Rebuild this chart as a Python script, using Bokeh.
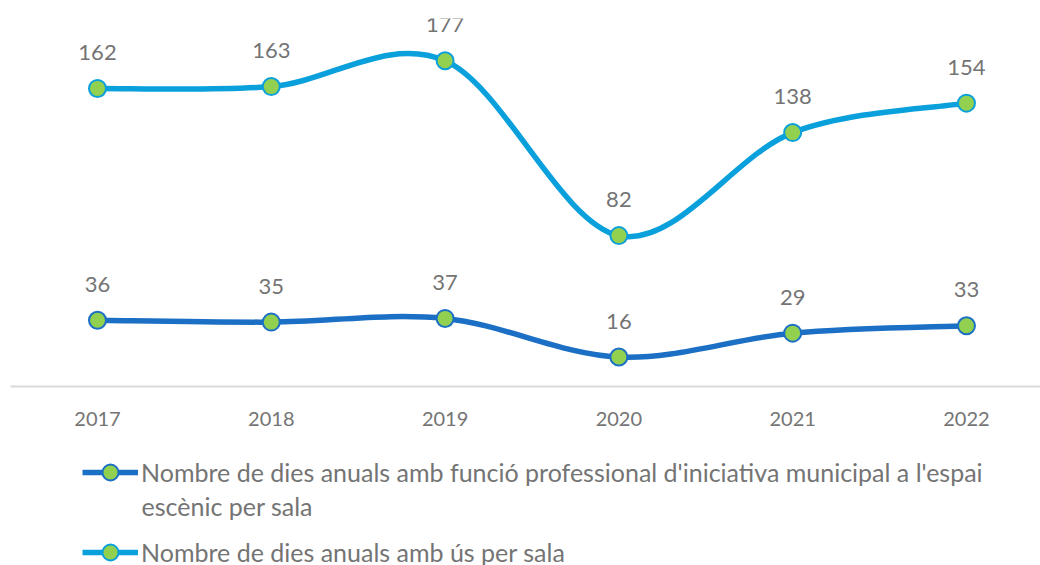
from bokeh.plotting import figure
from bokeh.layouts import column
from bokeh.models import (ColumnDataSource, FixedTicker, Range1d, Legend, LegendItem, Label)
from bokeh.embed import file_html
from bokeh.resources import INLINE
from bokeh.core.properties import value

years = ["2017", "2018", "2019", "2020", "2021", "2022"]
dies_funcio = [36, 35, 37, 16, 29, 33]
dies_us = [162, 163, 177, 82, 138, 154]
label_funcio_1 = "Nombre de dies anuals amb funció professional d'iniciativa municipal a l'espai"
label_funcio_2 = "escènic per sala"
label_us = "Nombre de dies anuals amb ús per sala"

DARK = "#1B6FC4"
LIGHT = "#0AA0DC"
GREEN = "#92D050"
TXT = "#747474"
FONT = "Lato"

xs = list(range(len(years)))

p = figure(width=1040, height=436, output_backend="svg", toolbar_location=None,
           x_range=Range1d(-0.5006, 5.426), y_range=Range1d(0, 200),
           min_border_left=10, min_border_right=0, min_border_top=18, min_border_bottom=50)
p.outline_line_color = None
p.grid.visible = False
p.yaxis.visible = False
p.background_fill_color = "white"


def smooth_source(x, y):
    n = len(x)
    d = dict(x0=[], y0=[], x1=[], y1=[], cx0=[], cy0=[], cx1=[], cy1=[])
    for i in range(n - 1):
        p0 = (x[max(i - 1, 0)], y[max(i - 1, 0)])
        p1 = (x[i], y[i])
        p2 = (x[i + 1], y[i + 1])
        p3 = (x[min(i + 2, n - 1)], y[min(i + 2, n - 1)])
        d["x0"].append(p1[0]); d["y0"].append(p1[1])
        d["x1"].append(p2[0]); d["y1"].append(p2[1])
        d["cx0"].append(p1[0] + (p2[0] - p0[0]) / 6.0)
        d["cy0"].append(p1[1] + (p2[1] - p0[1]) / 6.0)
        d["cx1"].append(p2[0] - (p3[0] - p1[0]) / 6.0)
        d["cy1"].append(p2[1] - (p3[1] - p1[1]) / 6.0)
    return ColumnDataSource(d)


for vals, col in [(dies_funcio, DARK), (dies_us, LIGHT)]:
    p.bezier(x0="x0", y0="y0", x1="x1", y1="y1", cx0="cx0", cy0="cy0", cx1="cx1", cy1="cy1",
             source=smooth_source(xs, vals), line_color=col, line_width=5.5, line_cap="round")
    src = ColumnDataSource(dict(x=xs, y=vals, t=[str(v) for v in vals]))
    p.scatter("x", "y", source=src, size=17, fill_color=GREEN, line_color=col, line_width=2)
    p.text("x", "y", text="t", source=src, y_offset=-36, text_align="center", text_baseline="middle",
           text_color=TXT, text_font=value(FONT), text_font_size="22px")

ax = p.xaxis[0]
ax.ticker = FixedTicker(ticks=xs)
ax.major_label_overrides = {i: y for i, y in zip(xs, years)}
ax.major_tick_line_color = None
ax.minor_tick_line_color = None
ax.axis_line_color = "#D9D9D9"
ax.axis_line_width = 2
ax.major_label_standoff = 19
ax.major_label_text_color = TXT
ax.major_label_text_font = FONT
ax.major_label_text_font_size = "20px"

# Legend panel (second figure, same series styling)
q = figure(width=1040, height=129, output_backend="svg", toolbar_location=None,
           x_range=Range1d(-0.5006, 5.426), y_range=Range1d(0, 200),
           min_border_left=0, min_border_right=0, min_border_top=0, min_border_bottom=0)
q.outline_line_color = None
q.grid.visible = False
q.axis.visible = False

items = []
for vals, col, lab in [(dies_funcio, DARK, label_funcio_1), (dies_us, LIGHT, label_us)]:
    ln = q.line(xs, vals, line_color=col, line_width=5.5, visible=False)
    sc = q.scatter(xs, vals, size=17, fill_color=GREEN, line_color=col, line_width=2, visible=False)
    items.append(LegendItem(label=lab, renderers=[ln, sc]))

legend = Legend(items=items, location=(72, -7), orientation="vertical",
                glyph_width=56, glyph_height=40, label_height=40, label_standoff=3,
                spacing=40, padding=0, margin=0, border_line_color=None,
                background_fill_alpha=0, label_text_color=TXT,
                label_text_font=FONT, label_text_font_size="25px", click_policy="none")
q.add_layout(legend)
q.add_layout(Label(x=131, y=60, x_units="screen", y_units="screen", text=label_funcio_2,
                   text_color=TXT, text_font=FONT, text_font_size="25px", text_baseline="middle"))

open("out.html", "w").write(file_html(column(p, q, spacing=0), INLINE))
